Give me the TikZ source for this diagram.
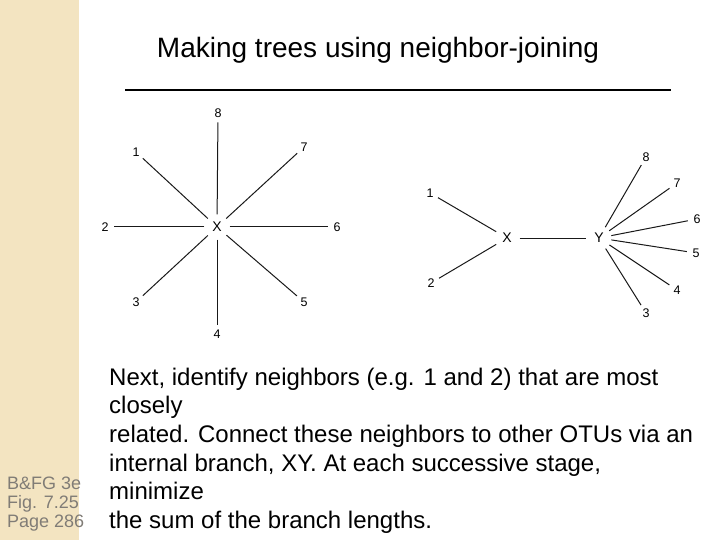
\documentclass[tikz,border=0pt]{standalone}
\usepackage{fontspec}
\setmainfont{Liberation Sans}
\usetikzlibrary{positioning}

\definecolor{sidebar}{RGB}{243,228,193}
\definecolor{sidetext}{RGB}{128,124,118}

\begin{document}
\begin{tikzpicture}[
  x=1pt, y=-1pt,
  leaf/.style={circle, inner sep=2.5pt, font=\fontsize{12.5}{14}\selectfont},
  hub/.style={circle, inner sep=4pt, font=\fontsize{14}{16}\selectfont},
  branch/.style={line width=1pt, black!90}
]

\useasboundingbox (0,0) rectangle (720,540);
\fill[sidebar] (0,0) rectangle (79,540);

% title and rule
\node[font=\fontsize{28}{32}\selectfont] (title) at (378,50) {Making trees using neighbor-joining};
\coordinate (ruleL) at (125,90);
\coordinate (ruleR) at (671,90);
\draw[line width=2.6pt] (ruleL) -- (ruleR);

% star tree
\node[hub] (sx) at (217,227) {X};
\node[leaf] (s8) at (218,113) {8};
\node[leaf] (s1) at (136,152) {1};
\node[leaf] (s7) at (304,147) {7};
\node[leaf] (s2) at (105,227) {2};
\node[leaf] (s6) at (337,227) {6};
\node[leaf] (s3) at (136,302) {3};
\node[leaf] (s5) at (304,302) {5};
\node[leaf] (s4) at (217,334) {4};
\foreach \n in {1,...,8}
  \draw[branch] (sx) -- (s\n);

% tree after joining 1 and 2
\node[hub] (jx) at (507,238) {X};
\node[hub] (jy) at (599,238) {Y};
\node[leaf] (j1) at (430,193) {1};
\node[leaf] (j2) at (431,283) {2};
\node[leaf] (j8) at (646,157) {8};
\node[leaf] (j7) at (677,183) {7};
\node[leaf] (j6) at (697,219) {6};
\node[leaf] (j5) at (696,253) {5};
\node[leaf] (j4) at (677,290) {4};
\node[leaf] (j3) at (646,313) {3};
\draw[branch] (jx) -- (j1);
\draw[branch] (jx) -- (j2);
\draw[branch] (jx) -- (jy);
\foreach \n in {3,...,8}
  \draw[branch] (jy) -- (j\n);

% caption text (anchored on its last baseline)
\node[anchor=base west, inner sep=0pt, align=left,
  font=\fontsize{24}{28.7}\selectfont] (body) at (109,528.5) {%
  Next, identify neighbors (e.g. 1 and 2) that are most\\
  closely\\
  related. Connect these neighbors to other OTUs via an\\
  internal branch, XY. At each successive stage,\\
  minimize\\
  the sum of the branch lengths.};

% source note
\node[anchor=base west, inner sep=0pt, align=left, text=sidetext,
  font=\fontsize{18}{19}\selectfont] (source) at (7,527) {%
  B\&FG 3e\\
  Fig. 7.25\\
  Page 286};

\end{tikzpicture}
\end{document}
